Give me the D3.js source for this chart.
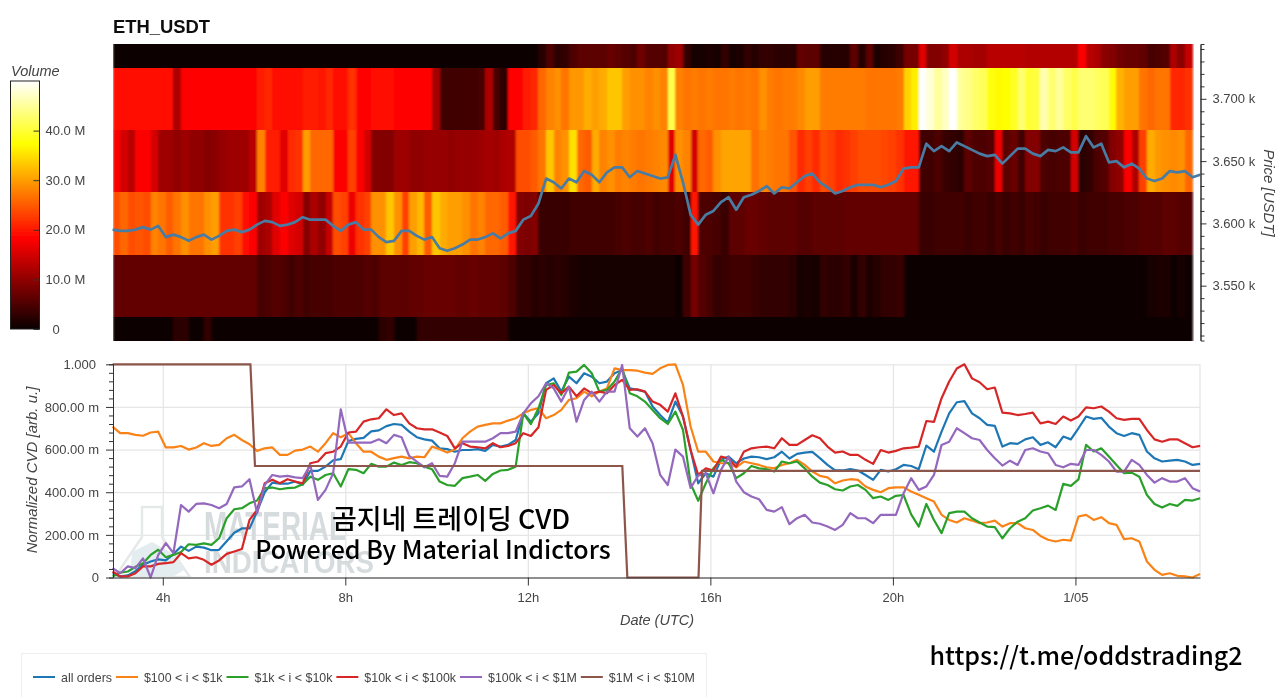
<!DOCTYPE html>
<html>
<head>
<meta charset="utf-8">
<script src="https://cdn.jsdelivr.net/npm/d3@7.9.0/dist/d3.min.js"></script>
<style>
  html, body { margin: 0; background: #fff; }
  svg { display: block; }
  text { font-family: "Liberation Sans", Arial, sans-serif; }
  .overlay { font-family: "Noto Sans CJK KR", "Noto Sans", sans-serif; fill: #000; font-weight: 500; }
</style>
</head>
<body>
<svg id="chart" width="1280" height="697"></svg>
<script>
// hours since midnight of the first candle, one sample every 10 minutes
const startHour = 2.9;
const stepHour = 1 / 6;

// volume (in millions) per 10 minute column, one array per $50 price band
const bandEdges = [3744, 3725, 3675, 3625, 3575, 3525, 3506];
const volBand0 = [0,0,0,0,0,0,0,0,0,0,0,0,0,0,0,0,0,0,0,0,0,0,0,0,0,0,0,0,0,0,0,0,0,0,0,0,0,0,0,0,0,0,0,0,0,0,0,0,0,0,0,0,0,0,0,0,
  2,5,2.5,3,5,6,6,6,6,7,6,5.5,5,7.5,5.5,5.5,5.5,10,11,3,1,1,1.5,1,3,1,1.5,3,2,3,3,2.5,2.5,2.5,6.5,6,6,2,2,2,2,6,2,6,1.5,2,2.5,4,8,8,16,9,9,10,15,
  12,12,11.5,11.5,13,13,13,13,13,12.5,12.5,12.5,12.5,12.5,12.5,12.5,18,13,12,9.5,9,7.5,7,7,6.5,4.5,5,5.5,12,9.5,14];
const volBand1 = [19,19,19,19,19,19,19,19,12,18.5,18.5,18.5,18.5,18.5,18.5,18.5,18.5,18.5,18.5,20.5,21,19.5,19.5,19,19,20.5,20.5,20,21,19,19,22,18.5,18.5,19,19,19,
  18.2,18.2,18.2,18.2,18.2,11.5,4,4,4,4,4,4.5,12,4.5,2.5,18.5,18.5,20.5,21,26,28,29,27,29.5,29.5,31,30,31,33,33,30,29,29,28,29,28,41,
  28,27,27.5,27,27.5,27,27,27.5,27,27.5,27,29,27.5,27,27.5,27.5,28.5,30,30,27.5,27.5,27.5,27.5,27.5,27.5,27,27,27,27,27.5,34,36,50,48,45,47,50,
  45,44,42.5,41.5,38,37,37.5,39,43,40,40.5,46,43,45,42.5,41,43,43,42,41.5,37,31.5,30,30,27,26,27,27,21,21,22];
const volBand2 = [18,15,13,18,18,15,11,11,10,11,10,10,9,9.5,10.5,11,11,11,13,28,20.5,20.5,16,21.5,22,30,26,26,26,18,18,23,18,15,9,9,9,
  11,11,10,10,10.5,10.5,10.5,10,10.5,10.5,10.5,11,11.5,11,12,12.5,24,24,25,27,33,28,29,35,26,25,31,28,29,27.5,28,27.5,27,27.5,28,28.5,16,
  29,28,15,26,25,29,30.5,30.5,30.5,30.5,26.5,28,27.5,27,27,24.5,21.5,23,21.5,24,23,21.5,22,23,24,24,24,23.5,23,22,20,20,4,4,5,3.5,3,
  2.5,6,5,5,5.5,17,6,7,4,9,9,5,4.5,5,5,15,2.5,3,5,5.5,9,10,18,12,23,31,29.5,29,28.5,29,26];
const volBand3 = [24,26,24,24.5,24,28,27,25,27,29,27,27,29,30,22,22,23,19,18,11,12,16,18,16,15,9,12,10,14,24,23,17,22,23,29,29,33,
  29,23,30,32,25,33,31,30,30,29,27,28,26,26,25,20,9,8.5,9,3.5,3.5,3.5,3.5,4,4,4,4,4,4,4.5,5,4.5,4.5,5,4,4.5,4.5,
  5,4,20,5,5,4.5,3.5,6,6,7,7,6.5,6,6,6,6,5.5,5.5,6,6,6,6,6.5,6.5,6.5,6.5,6.5,6.5,6.5,6.5,6.5,6.5,3.5,3.5,4,4,4,
  4,3.5,4,4,3.5,4.5,3.5,4,3.5,4.5,4,3.5,4,4,4,4.5,3.5,4,4,4,4.5,4.5,5,5,5.5,5.5,5.5,6,6,5.5,5.5];
const volBand4 = [6.5,6.5,6.5,6.5,6.5,6.5,6.5,6.5,6.5,6.5,6.5,6.5,6.5,6.5,6.5,6.5,6.5,6.5,6.5,4.5,5,5.5,5,4,5,4,4.5,4.5,4.5,5,5,5,5,5.5,5,6,6,
  6,6,6.5,6.5,7,7,7,7,6.5,6.5,7,6.5,6.5,6.5,6,5,3,3,2,2.5,2,2.5,2,1.5,1,1,1,1,1,1,1,1,1,1,1,1,1,
  0.5,4,8,5.5,4.5,3,3.5,4,4,4,3.5,3,3,3,3,2.5,1,1.5,1,3,2.5,2.5,3,1.5,3,1.5,2,3,3,3.5,0,0,0,0,0,0,0,
  0,0,0,0,0,0,0,0,0,0,0,0,0,0,0,0,0,0,0,0,0,0,0,0,0,1,1.5,1.2,0,1,0];
const volBand5 = [0,0,0,0,0,0,0,0,2.5,2.5,0,0,3,0,0,0,0,0,0,0,0,0,0,0,0,0,0,0,0,0,0,0,0,0,0,2.5,3,
  0,0,0,3,3,3,3,3,3,3,3,3,3,3,3,0,0,0,0,0,0,0,0,0,0,0,0,0,0,0,0,0,0,0,0,0,0,
  0,0,0,0,0,0,0,0,0,0,0,0,0,0,0,0,0,0,0,0,0,0,0,0,0,0,0,0,0,0,0,0,0,0,0,0,0,
  0,0,0,0,0,0,0,0,0,0,0,0,0,0,0,0,0,0,0,0,0,0,0,0,0,0,0,0,0,0,0];
const volumeBands = [volBand0, volBand1, volBand2, volBand3, volBand4, volBand5];

// ETH price in USDT
const price = [3595,3594,3594,3595,3597,3595,3598,3589,3591,3589,3586,3589,3591,3587,3590,3594,3595,3593,3595,3599,
  3602,3601,3598,3599,3601,3605,3603,3603,3603,3598,3594,3599,3601,3595,3595,3589,3585,3586,3594,3594,
  3590,3587,3589,3580,3578,3580,3583,3587,3587,3589,3592,3588,3592,3594,3603,3606,3616,3636,3633,3628,
  3636,3633,3642,3639,3633,3641,3645,3645,3637,3642,3640,3638,3636,3637,3655,3633,3607,3599,3607,3610,
  3617,3621,3611,3621,3623,3626,3630,3624,3629,3628,3633,3638,3640,3633,3629,3624,3626,3629,3631,3631,
  3631,3629,3631,3634,3644,3645,3645,3664,3658,3662,3658,3665,3662,3659,3656,3654,3655,3648,3654,3660,
  3660,3656,3654,3659,3658,3661,3657,3657,3670,3661,3664,3649,3650,3645,3648,3644,3636,3634,3636,3642,
  3641,3642,3637,3639];

// normalized cvd, milli units
const cvdAll = [20,5,10,30,60,75,85,80,110,145,125,145,140,128,130,170,210,230,230,310,400,445,440,440,450,435,500,500,520,550,555,640,650,655,685,690,710,720,
  716,684,658,648,642,606,602,590,598,598,602,594,622,614,622,645,770,731,770,911,934,872,942,911,958,942,911,919,958,973,887,880,872,802,762,727,825,755,598,442,489,473,552,567,536,558,567,564,555,564,590,558,580,
  586,589,560,528,502,502,508,502,481,458,505,497,508,528,523,508,619,590,684,770,822,827,770,747,716,711,614,630,627,648,658,622,634,611,661,648,700,755,744,749,708,677,664,677,669,591,559,544,548,552,544,528,533];
const cvd100 = [708,677,677,669,665,680,684,610,610,617,600,610,630,617,622,653,669,645,625,594,606,610,575,575,595,600,614,590,630,677,658,677,630,590,590,567,552,560,
  567,559,567,564,614,602,586,600,653,684,708,716,723,723,736,747,770,786,794,747,762,786,833,841,872,850,872,887,981,973,973,970,961,955,981,997,1000,903,708,590,590,544,536,536,517,544,536,528,517,512,528,536,552,
  528,497,477,470,442,455,461,458,427,411,400,419,423,423,403,388,372,356,294,270,258,278,267,255,258,267,239,255,255,231,223,195,177,169,177,173,286,294,270,283,255,247,180,184,169,75,36,12,20,8,5,0,17];
const cvd1k = [5,23,28,50,67,106,130,95,106,120,156,153,160,153,184,278,320,325,348,361,419,422,414,419,422,437,473,458,481,489,427,508,505,489,533,520,520,539,
  528,541,536,520,508,450,434,430,466,473,481,453,486,502,505,520,770,720,794,903,911,856,961,966,997,958,872,880,919,981,864,850,825,786,747,720,778,692,440,360,442,512,552,536,466,489,523,512,508,497,544,536,544,
  512,473,445,434,414,408,427,434,411,372,380,364,383,387,296,239,345,270,208,302,309,309,278,258,239,236,184,231,262,278,314,325,337,317,439,430,460,622,591,606,567,528,489,492,473,387,345,328,345,336,364,361,372];
const cvd10k = [28,5,5,20,52,52,64,67,72,114,90,95,83,60,80,111,122,134,270,317,442,458,442,461,450,442,536,544,583,590,614,680,684,731,742,747,789,762,
  770,723,700,695,695,680,664,606,630,614,611,606,630,611,617,630,677,664,705,880,903,864,895,850,887,864,872,864,903,927,880,883,872,825,810,778,864,755,598,481,512,502,567,558,520,590,606,611,614,606,653,622,622,
  645,667,653,614,586,591,575,575,552,533,598,586,594,606,609,614,734,730,841,919,980,1000,934,916,883,891,773,770,762,767,773,723,731,720,755,736,755,798,794,802,778,747,739,744,744,692,648,637,648,648,630,611,617];
const cvd100k = [44,20,52,44,90,0,106,161,114,340,309,345,348,340,325,345,423,427,461,302,434,481,473,477,470,466,528,364,411,489,789,633,633,633,633,648,630,669,
  658,570,544,517,536,477,473,536,637,637,637,637,653,677,677,684,770,817,850,911,887,825,895,731,833,872,825,872,872,997,700,661,700,630,481,434,600,567,420,478,489,395,505,567,450,400,380,367,317,309,330,250,278,
  294,258,252,239,223,247,302,278,278,255,294,294,294,395,466,411,427,481,622,637,700,677,653,645,598,559,525,548,528,598,606,591,583,528,517,533,528,598,598,575,544,497,497,552,528,481,445,466,450,450,466,419,403];
// the biggest bucket is a step line with its own breakpoints
const whaleHours = [2.9, 5.92, 6.02, 14.07, 14.18, 15.74, 15.82, 26.73];
const cvdWhale = [1000, 1000, 523, 523, 0, 0, 500, 500];

const seriesNames = ['all orders', '$100 < i < $1k', '$1k < i < $10k', '$10k < i < $100k', '$100k < i < $1M', '$1M < i < $10M'];
const seriesColors = ['#1f77b4', '#f98318', '#2ca02c', '#d62728', '#9467bd', '#8c564b'];
const seriesValues = [cvdAll, cvd100, cvd1k, cvd10k, cvd100k];

const xTicks = [4, 8, 12, 16, 20, 24];
const xTickLabels = ['4h', '8h', '12h', '16h', '20h', '1/05'];
const cvdTicks = [0, 200, 400, 600, 800, 1000];
const priceTicks = [3550, 3600, 3650, 3700];
const volumeTicks = [0, 10, 20, 30, 40];

const tickColor = '#444';
const svg = d3.select('#chart');
const defs = svg.append('defs');
// the source is a soft screenshot
defs.append('filter').attr('id', 'soft').attr('x', '-2%').attr('y', '-2%').attr('width', '104%').attr('height', '104%')
    .append('feGaussianBlur').attr('stdDeviation', 0.45);
defs.append('filter').attr('id', 'softHeat').attr('x', 0).attr('y', 0).attr('width', '100%').attr('height', '100%')
    .append('feGaussianBlur').attr('stdDeviation', '1.3 0.3');
const chart = svg.append('g').attr('filter', 'url(#soft)');

const x = d3.scaleLinear().domain([startHour, 26.73]).range([112.6, 1200]);
const yPrice = d3.scaleLinear().domain([3506, 3744]).range([340.5, 44]);
const yCvd = d3.scaleLinear().domain([0, 1000]).range([577.5, 364.3]);
const yVolume = d3.scaleLinear().domain([0, 50]).range([329, 81]);
const hot = d3.scaleLinear().domain([0, 18.2, 37.3, 50]).range(['#0a0000', '#ff0000', '#ffff00', '#ffffff']);
const hourOf = (i) => startHour + i * stepHour;

function styleAxis(g, size) {
    g.selectAll('text').attr('fill', tickColor).style('font-size', (size || 13) + 'px');
    g.selectAll('line').attr('stroke', '#333');
    g.selectAll('path').attr('stroke', '#333');
}

// ---- heatmap
chart.append('text').text('ETH_USDT').attr('x', 113).attr('y', 33)
    .style('font-size', '18.4px').style('font-weight', 'bold').attr('fill', '#111');

const heat = chart.append('g').attr('filter', 'url(#softHeat)');
volumeBands.forEach((band, b) => {
    heat.append('g').attr('shape-rendering', 'crispEdges').selectAll('rect').data(band).join('rect')
        .attr('x', (d, i) => x(hourOf(i)) + (i === 0 ? 0.4 : 0))
        .attr('width', x(hourOf(1)) - x(hourOf(0)) + 0.6)
        .attr('y', yPrice(bandEdges[b]))
        .attr('height', yPrice(bandEdges[b + 1]) - yPrice(bandEdges[b]) + 0.3)
        .attr('fill', (d) => hot(d));
});

const priceLine = d3.line().x((d, i) => x(hourOf(i))).y((d) => yPrice(d));
chart.append('path').datum(price).attr('d', priceLine)
    .attr('fill', 'none').attr('stroke', '#4a7ba3').attr('stroke-width', 2.7).attr('stroke-linejoin', 'round');

// price axis, major and minor
chart.append('g').attr('transform', 'translate(1200.5,0)')
    .call(d3.axisRight(yPrice).tickValues(d3.range(3510, 3744, 10).filter((d) => !priceTicks.includes(d))).tickSize(4).tickFormat(''))
    .call(styleAxis);
chart.append('g').attr('transform', 'translate(1200.5,0)')
    .call(d3.axisRight(yPrice).tickValues(priceTicks).tickSize(6).tickPadding(6).tickSizeOuter(0)
        .tickFormat((d) => d3.format('.3f')(d / 1000) + ' k'))
    .call(styleAxis);
chart.append('text').text('Price [USDT]').attr('transform', 'translate(1264,193) rotate(90)')
    .attr('text-anchor', 'middle').attr('fill', tickColor).style('font-size', '15px').style('font-style', 'italic');

// ---- colorbar
const gradient = defs.append('linearGradient').attr('id', 'volumeRamp').attr('x1', 0).attr('x2', 0).attr('y1', 1).attr('y2', 0);
hot.domain().forEach((d) => {
    gradient.append('stop').attr('offset', d / 50).attr('stop-color', hot(d));
});
chart.append('rect').attr('x', 10.5).attr('y', yVolume(50)).attr('width', 29).attr('height', yVolume(0) - yVolume(50))
    .attr('fill', 'url(#volumeRamp)').attr('stroke', '#222').attr('stroke-width', 1);
chart.append('g').attr('transform', 'translate(39.5,0)')
    .call(d3.axisRight(yVolume).tickValues(volumeTicks).tickSize(-6).tickPadding(6).tickSizeOuter(0)
        .tickFormat((d) => d === 0 ? '0' : d.toFixed(1) + ' M'))
    .call(styleAxis)
    .call((g) => g.select('.domain').remove())
    .call((g) => g.selectAll('.tick').filter((d) => d === 0).select('text').attr('x', 13));
chart.append('text').text('Volume').attr('x', 11).attr('y', 76)
    .attr('fill', tickColor).style('font-size', '14.5px').style('font-style', 'italic');

// ---- cvd panel
chart.append('g').attr('transform', 'translate(0,577.5)')
    .call(d3.axisBottom(x).tickValues(xTicks).tickSize(yCvd(1000) - yCvd(0)).tickFormat(''))
    .call((g) => g.select('.domain').remove())
    .call((g) => g.selectAll('line').attr('stroke', '#e6e6e6').attr('stroke-width', 1.3));
chart.append('g').attr('transform', 'translate(113,0)')
    .call(d3.axisLeft(yCvd).tickValues(cvdTicks).tickSize(-1087).tickFormat(''))
    .call((g) => g.select('.domain').remove())
    .call((g) => g.selectAll('line').attr('stroke', '#e6e6e6').attr('stroke-width', 1.3));
chart.append('line').attr('x1', 1200).attr('x2', 1200).attr('y1', yCvd(1000)).attr('y2', yCvd(0))
    .attr('stroke', '#e6e6e6').attr('stroke-width', 1.3);

// faded logo behind the lines
const logo = chart.append('g').attr('fill', '#d6dbde');
logo.append('path').attr('d', 'M142 507 h20 v30 l28 40 h-75 l27 -40 z').attr('fill', 'none')
    .attr('stroke', '#e6e9ea').attr('stroke-width', 2.5);
logo.append('path').attr('d', 'M132 552 l20 -10 l18 10 l14 18 l-10 6 h-44 z').attr('fill', '#e3ecee');
logo.append('text').text('MATERIAL').attr('x', 204).attr('y', 540).attr('textLength', 142)
    .attr('lengthAdjust', 'spacingAndGlyphs').style('font-size', '40px').style('font-weight', 'bold');
logo.append('text').text('INDICATORS').attr('x', 204).attr('y', 573).attr('textLength', 170)
    .attr('lengthAdjust', 'spacingAndGlyphs').style('font-size', '32px').style('font-weight', 'bold');

const cvdLine = d3.line().x((d, i) => x(hourOf(i))).y((d) => yCvd(d));
seriesValues.forEach((values, s) => {
    chart.append('path').datum(values).attr('d', cvdLine)
        .attr('fill', 'none').attr('stroke', seriesColors[s]).attr('stroke-width', 2.2)
        .attr('stroke-linejoin', 'round');
});
const whaleLine = d3.line().x((d, i) => x(whaleHours[i])).y((d) => yCvd(d));
chart.append('path').datum(cvdWhale).attr('d', whaleLine)
    .attr('fill', 'none').attr('stroke', seriesColors[5]).attr('stroke-width', 2.2);

// axes on top of the lines
chart.append('g').attr('transform', 'translate(113,0)')
    .call(d3.axisLeft(yCvd).tickValues(d3.range(0, 1001, 40).filter((d) => !cvdTicks.includes(d))).tickSize(4).tickFormat(''))
    .call(styleAxis);
chart.append('g').attr('transform', 'translate(113,0)')
    .call(d3.axisLeft(yCvd).tickValues(cvdTicks).tickSize(7).tickPadding(7).tickSizeOuter(0)
        .tickFormat((d) => d === 0 ? '0' : d === 1000 ? '1.000' : d.toFixed(2) + ' m'))
    .call(styleAxis)
    .call((g) => g.selectAll('.tick').filter((d) => d === 1000).select('text').attr('dx', -3));
chart.append('g').attr('transform', 'translate(0,577.5)')
    .call(d3.axisBottom(x).tickValues(xTicks).tickSize(8).tickPadding(7).tickSizeOuter(0)
        .tickFormat((d, i) => xTickLabels[i]))
    .call(styleAxis);
chart.append('text').text('Date (UTC)').attr('x', 657).attr('y', 625).attr('text-anchor', 'middle')
    .attr('fill', tickColor).style('font-size', '14.5px').style('font-style', 'italic');
chart.append('text').text('Normalized CVD [arb. u.]').attr('transform', 'translate(37,470) rotate(-90)')
    .attr('text-anchor', 'middle').attr('fill', tickColor).style('font-size', '15px').style('font-style', 'italic');

// ---- pasted captions
svg.append('text').attr('class', 'overlay').text('곰지네 트레이딩 CVD').attr('x', 451).attr('y', 529)
    .attr('text-anchor', 'middle').style('font-size', '27px');
svg.append('text').attr('class', 'overlay').text('Powered By Material Indictors').attr('x', 433).attr('y', 559)
    .attr('text-anchor', 'middle').style('font-size', '25px');
svg.append('text').attr('class', 'overlay').text('https://t.me/oddstrading2').attr('x', 1086).attr('y', 665)
    .attr('text-anchor', 'middle').style('font-size', '25px');

// ---- legend, box runs off the bottom of the page
chart.append('rect').attr('x', 21.5).attr('y', 653.5).attr('width', 685).attr('height', 60)
    .attr('fill', 'none').attr('stroke', '#eee');
let legendX = 33;
seriesNames.forEach((name, s) => {
    chart.append('line').attr('x1', legendX).attr('x2', legendX + 22).attr('y1', 677).attr('y2', 677)
        .attr('stroke', seriesColors[s]).attr('stroke-width', 2);
    const label = chart.append('text').text(name).attr('x', legendX + 28).attr('y', 681.5)
        .attr('fill', tickColor).style('font-size', '12.4px');
    legendX += 28 + label.node().getComputedTextLength() + 4;
});
</script>
</body>
</html>
